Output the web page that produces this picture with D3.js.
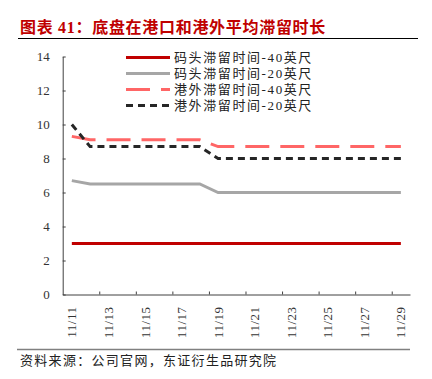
<!DOCTYPE html>
<meta charset="utf-8">
<style>
    body { margin: 0; background: #fff; }
    text { font-family: "Liberation Serif", "Noto Sans CJK SC", serif; }
    .cjk { font-family: "Liberation Serif", "Noto Sans CJK SC", sans-serif; }
</style>
<svg id="canvas" width="432" height="379"></svg>
<script src="https://d3js.org/d3.v7.min.js"></script>
<script>

    var dates = ["11/11", "11/12", "11/13", "11/14", "11/15", "11/16", "11/17", "11/18", "11/19", "11/20",
                 "11/21", "11/22", "11/23", "11/24", "11/25", "11/26", "11/27", "11/28", "11/29"];

    var seriesNames = ["码头滞留时间-40英尺", "码头滞留时间-20英尺", "港外滞留时间-40英尺", "港外滞留时间-20英尺"];

    var terminal40 = [3, 3, 3, 3, 3, 3, 3, 3, 3, 3, 3, 3, 3, 3, 3, 3, 3, 3, 3];
    var terminal20 = [6.7, 6.5, 6.5, 6.5, 6.5, 6.5, 6.5, 6.5, 6.0, 6.0, 6.0, 6.0, 6.0, 6.0, 6.0, 6.0, 6.0, 6.0, 6.0];
    var outside40  = [9.3, 9.1, 9.1, 9.1, 9.1, 9.1, 9.1, 9.1, 8.7, 8.7, 8.7, 8.7, 8.7, 8.7, 8.7, 8.7, 8.7, 8.7, 8.7];
    var outside20  = [10.0, 8.7, 8.7, 8.7, 8.7, 8.7, 8.7, 8.7, 8.0, 8.0, 8.0, 8.0, 8.0, 8.0, 8.0, 8.0, 8.0, 8.0, 8.0];

    var yTicks = [0, 2, 4, 6, 8, 10, 12, 14];

    var svg = d3.select("svg");

    var styles = [
        {color: "#c00000", dash: null},
        {color: "#a6a6a6", dash: null},
        {color: "#ff6666", dash: "24,11"},
        {color: "#262626", dash: "7,5"}
    ];
    var allSeries = [terminal40, terminal20, outside40, outside20];

    var plotLeft = 62.7, plotRight = 410, plotTop = 56.5, plotBottom = 294.5;

    var x = d3.scaleBand().domain(dates).range([plotLeft, plotRight]);
    var xi = d3.scaleLinear().domain([0, dates.length]).range([plotLeft, plotRight]);
    var y = d3.scaleLinear().domain([0, 14]).range([plotBottom, plotTop]);

    // title
    svg.append("text")
       .attr("class", "cjk")
       .attr("x", 20).attr("y", 33)
       .attr("fill", "#c00000")
       .attr("font-size", 16)
       .attr("font-weight", "bold")
       .attr("letter-spacing", 0.7)
       .text("图表 41：底盘在港口和港外平均滞留时长");

    svg.append("line")
       .attr("x1", 18).attr("x2", 418)
       .attr("y1", 38.5).attr("y2", 38.5)
       .attr("stroke", "#000").attr("stroke-width", 1);

    // y axis
    var yAxis = svg.append("g")
       .attr("transform", "translate(" + plotLeft + ",0)")
       .call(d3.axisLeft(y).tickValues(yTicks).tickSize(-3).tickPadding(13).tickSizeOuter(0));
    yAxis.select(".domain").attr("stroke", "#404040");
    yAxis.selectAll(".tick line").attr("stroke", "#404040");
    yAxis.selectAll("text").attr("font-size", 13).attr("fill", "#333")
         .attr("font-family", "Liberation Serif");

    // x axis tick marks at category boundaries
    var xTickAxis = svg.append("g")
       .attr("transform", "translate(0," + plotBottom + ")")
       .call(d3.axisBottom(xi).tickValues(d3.range(2, dates.length, 2)).tickSize(-3).tickFormat("").tickSizeOuter(0));
    xTickAxis.select(".domain").attr("stroke", "#404040");
    xTickAxis.selectAll(".tick line").attr("stroke", "#404040");

    // x labels
    var xAxis = svg.append("g")
       .attr("transform", "translate(0," + plotBottom + ")")
       .call(d3.axisBottom(x).tickValues(dates.filter(function(d, i) { return i % 2 == 0; })).tickSize(0));
    xAxis.select(".domain").remove();
    xAxis.selectAll("text")
         .attr("font-size", 13).attr("fill", "#333")
         .attr("font-family", "Liberation Serif")
         .attr("letter-spacing", 0.5)
         .attr("text-anchor", "end")
         .attr("transform", "rotate(-90)")
         .attr("x", -12).attr("y", 0).attr("dy", "0.35em");

    // lines
    var line = d3.line()
       .x(function(d, i) { return x(dates[i]) + x.bandwidth() / 2; })
       .y(function(d) { return y(d); });

    allSeries.forEach(function(s, k) {
        svg.append("path")
           .datum(s)
           .attr("d", line)
           .attr("fill", "none")
           .attr("stroke", styles[k].color)
           .attr("stroke-width", 3)
           .attr("stroke-dasharray", styles[k].dash);
    });

    // legend
    var legend = svg.append("g");
    seriesNames.forEach(function(name, k) {
        var ly = 57.5 + k * 16;
        legend.append("line")
              .attr("x1", 126).attr("x2", 170)
              .attr("y1", ly).attr("y2", ly)
              .attr("stroke", styles[k].color)
              .attr("stroke-width", 3)
              .attr("stroke-dasharray", styles[k].dash);
        legend.append("text")
              .attr("class", "cjk")
              .attr("x", 174).attr("y", ly + 4.5)
              .attr("font-size", 13)
              .attr("letter-spacing", 1.6)
              .attr("fill", "#222")
              .text(name);
    });

    // footer
    svg.append("line")
       .attr("x1", 17).attr("x2", 410)
       .attr("y1", 349.5).attr("y2", 349.5)
       .attr("stroke", "#808080").attr("stroke-width", 1.5);

    svg.append("text")
       .attr("class", "cjk")
       .attr("x", 20).attr("y", 365)
       .attr("font-size", 13)
       .attr("letter-spacing", 1.3)
       .attr("fill", "#222")
       .text("资料来源：公司官网，东证衍生品研究院");

</script>
